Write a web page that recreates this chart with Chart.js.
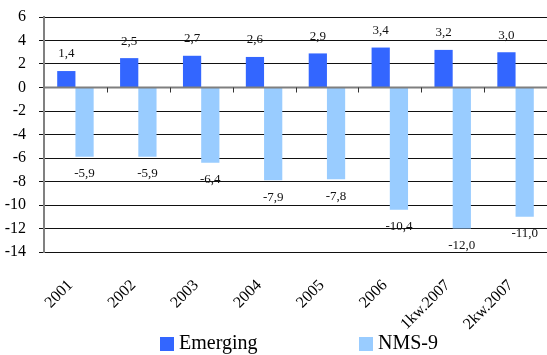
<!DOCTYPE html>
<html>
<head>
<meta charset="utf-8">
<script src="https://cdn.jsdelivr.net/npm/chart.js@4/dist/chart.umd.min.js"></script>
<style>
  html, body { margin: 0; padding: 0; background: #fff; }
  #wrap { width: 547px; height: 355px; position: relative; }
</style>
</head>
<body>
<div id="wrap"><canvas id="c" width="547" height="355"></canvas></div>
<script>
// Categories and series
const categories = ['2001', '2002', '2003', '2004', '2005', '2006', '1kw.2007', '2kw.2007'];
const emerging = [1.4, 2.5, 2.7, 2.6, 2.9, 3.4, 3.2, 3.0];
const nms9 = [-5.9, -5.9, -6.4, -7.9, -7.8, -10.4, -12.0, -11.0];
const seriesNames = ['Emerging', 'NMS-9'];
const yTicks = [6, 4, 2, 0, -2, -4, -6, -8, -10, -12, -14];

const SERIF = '"Liberation Serif", "Times New Roman", serif';
const fmt = v => v.toFixed(1).replace('.', ',');

// Value labels above positive bars and below negative bars
const valueLabels = {
  id: 'valueLabels',
  afterDatasetsDraw(chart) {
    const ctx = chart.ctx;
    ctx.save();
    ctx.font = '13px ' + SERIF;
    ctx.fillStyle = '#111';
    ctx.textAlign = 'center';
    ctx.textBaseline = 'middle';
    chart.data.datasets.forEach((ds, i) => {
      const meta = chart.getDatasetMeta(i);
      meta.data.forEach((bar, j) => {
        const v = ds.data[j];
        const y = v >= 0 ? bar.y - 17 : bar.y + 17;
        ctx.fillText(fmt(v), bar.x, y);
      });
    });
    ctx.restore();
  }
};

// Category axis line at zero with tick marks between categories
const zeroAxis = {
  id: 'zeroAxis',
  afterDatasetsDraw(chart) {
    const ctx = chart.ctx;
    const xs = chart.scales.x, ys = chart.scales.y;
    const y0 = ys.getPixelForValue(0);
    const area = chart.chartArea;
    ctx.save();
    ctx.strokeStyle = '#7f7f7f';
    ctx.lineWidth = 2;
    ctx.beginPath();
    ctx.moveTo(area.left, y0);
    ctx.lineTo(area.right, y0);
    ctx.stroke();
    ctx.strokeStyle = '#333';
    ctx.lineWidth = 1;
    ctx.beginPath();
    for (let i = 1; i < categories.length; i++) {
      const x = Math.round((xs.getPixelForValue(i - 1) + xs.getPixelForValue(i)) / 2) + 0.5;
      ctx.moveTo(x, y0);
      ctx.lineTo(x, y0 + 5);
    }
    ctx.stroke();
    ctx.restore();
  }
};

// Legend row under the chart
const bottomLegend = {
  id: 'bottomLegend',
  afterDraw(chart) {
    const ctx = chart.ctx;
    const items = [{ x: 160 }, { x: 359 }];
    ctx.save();
    ctx.font = '20px ' + SERIF;
    ctx.textBaseline = 'middle';
    ctx.textAlign = 'left';
    chart.data.datasets.forEach((ds, i) => {
      const x = items[i].x;
      ctx.fillStyle = ds.backgroundColor;
      ctx.fillRect(x, 337, 14, 14);
      ctx.fillStyle = '#000';
      ctx.fillText(ds.label, x + 19, 344);
    });
    ctx.restore();
  }
};

new Chart(document.getElementById('c'), {
  type: 'bar',
  data: {
    labels: categories,
    datasets: [
      { label: seriesNames[0], data: emerging, backgroundColor: '#3366ff' },
      { label: seriesNames[1], data: nms9, backgroundColor: '#99ccff' }
    ]
  },
  options: {
    responsive: false,
    animation: false,
    devicePixelRatio: 1,
    layout: { padding: { top: 17, right: 0, bottom: 0, left: 0 } },
    datasets: { bar: { categoryPercentage: 0.58, barPercentage: 1.0 } },
    plugins: {
      legend: { display: false },
      tooltip: { enabled: false }
    },
    scales: {
      x: {
        grid: { display: false },
        border: { display: false },
        ticks: {
          font: { family: SERIF, size: 16 },
          color: '#000',
          minRotation: 45,
          maxRotation: 45,
          autoSkip: false,
          padding: 16,
          labelOffset: -5
        },
        afterFit(scale) {
          scale.height = 103;
          scale.paddingLeft = 0;
          scale.paddingRight = 0;
        }
      },
      y: {
        min: -14,
        max: 6,
        afterBuildTicks(scale) { scale.ticks = yTicks.map(v => ({ value: v })); },
        grid: {
          color: '#111',
          lineWidth: 1,
          tickLength: 5
        },
        border: { display: true, color: '#808080', width: 2 },
        ticks: {
          font: { family: SERIF, size: 16 },
          color: '#000',
          padding: 13
        },
        afterFit(scale) {
          scale.width = 44;
          scale.paddingTop = 0;
          scale.paddingBottom = 0;
        }
      }
    }
  },
  plugins: [valueLabels, zeroAxis, bottomLegend]
});
</script>
</body>
</html>
